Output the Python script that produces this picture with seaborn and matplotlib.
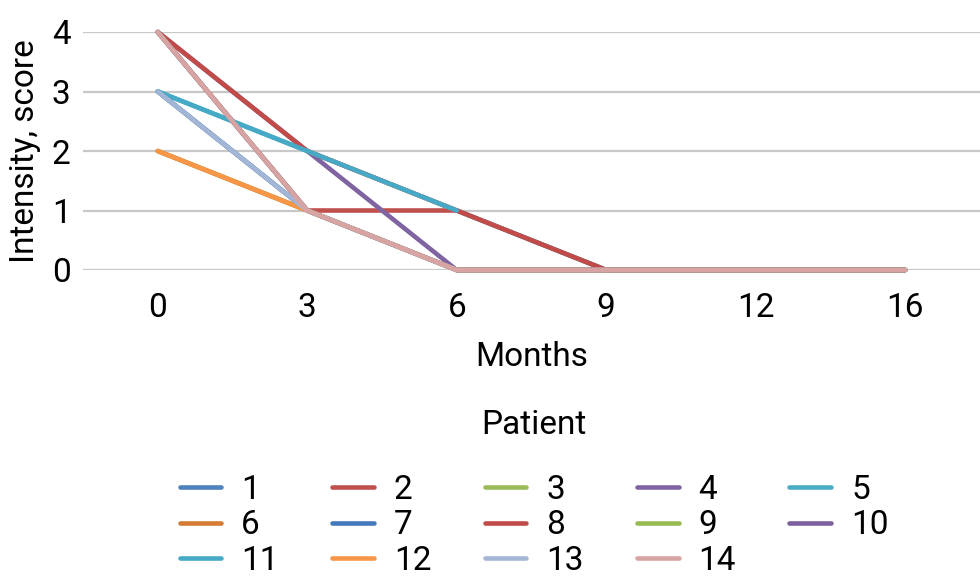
import numpy as np
import pandas as pd
import seaborn as sns
import matplotlib
matplotlib.use("Agg")
import matplotlib.pyplot as plt

months = ["0", "3", "6", "9", "12", "16"]
patients = [str(i) for i in range(1, 15)]
nan = np.nan
p1 = [3, 1, 0, 0, 0, 0]
p2 = [4, 1, 1, 0, 0, 0]
p3 = [2, 1, 0, 0, 0, 0]
p4 = [4, 2, 0, 0, 0, 0]
p5 = [3, 2, 1, 0, 0, 0]
p6 = [2, 1, 0, 0, 0, 0]
p7 = [3, 1, 0, 0, 0, 0]
p8 = [4, 2, 1, 0, 0, 0]
p9 = [4, 1, 0, 0, 0, 0]
p10 = [4, 1, 0, 0, 0, 0]
p11 = [3, 2, 1, nan, nan, nan]
p12 = [2, 1, 0, 0, 0, 0]
p13 = [3, 1, 0, 0, 0, 0]
p14 = [4, 1, 0, 0, 0, 0]
series = [p1, p2, p3, p4, p5, p6, p7, p8, p9, p10, p11, p12, p13, p14]
colors = ["#4F81BD", "#C0504D", "#9BBB59", "#8064A2", "#4BACC6", "#D47C34",
          "#4479BC", "#C04B48", "#97BA52", "#7D5FA0", "#46AAC6", "#F79646",
          "#A4B6D5", "#D8A3A3"]

rows = []
for p, vals in zip(patients, series):
    for m, v in zip(months, vals):
        rows.append({"Months": m, "Intensity": v, "Patient": p})
df = pd.DataFrame(rows).dropna()

sns.set_theme(style="white")
plt.rcParams["font.family"] = ["Roboto", "DejaVu Sans"]
plt.rcParams["text.color"] = "black"
FS = 24

fig = plt.figure(figsize=(9.8, 5.86), dpi=100)
ax = fig.add_axes([83 / 980, (586 - 270) / 586, (980 - 83) / 980, 238 / 586])

sns.lineplot(data=df, x="Months", y="Intensity", hue="Patient",
             hue_order=patients, palette=colors, estimator=None, sort=False,
             linewidth=3.3, ax=ax, legend=True)
for ln in ax.get_lines():
    ln.set_clip_on(False)
    ln.set_solid_capstyle("round")
    ln.set_solid_joinstyle("round")

ax.set_xlim(-0.5, 5.5)
ax.set_ylim(0, 4)
ax.set_yticks([0, 1, 2, 3, 4])
ax.yaxis.grid(True, color="#C8C8C8", linewidth=1.6)
ax.set_axisbelow(True)
for s in ax.spines.values():
    s.set_visible(False)
ax.tick_params(axis="x", length=0, pad=16, labelsize=FS, colors="black")
ax.tick_params(axis="y", length=0, pad=9, labelsize=FS, colors="black")
ax.set_xlabel("Months", fontsize=FS, labelpad=12, color="black")
ax.set_ylabel("Intensity, score", fontsize=FS, labelpad=8, color="black")

handles, labels = ax.get_legend_handles_labels()
ax.get_legend().remove()
hmap = dict(zip(labels, handles))
order = ["1", "6", "11", "2", "7", "12", "3", "8", "13", "4", "9", "14", "5", "10"]
leg = fig.legend([hmap[k] for k in order], order, loc="upper center",
                 bbox_to_anchor=(0.545, 1 - 392 / 586), ncol=5, frameon=False,
                 fontsize=FS, title="Patient", title_fontsize=FS,
                 handlelength=1.25, handletextpad=0.6, columnspacing=1.6,
                 labelspacing=0.1, borderpad=0.0)
leg._legend_box.sep = 24
for h in leg.legend_handles:
    h.set_linewidth(3.3)
    h.set_solid_capstyle("round")

fig.savefig("out.png", dpi=100)
